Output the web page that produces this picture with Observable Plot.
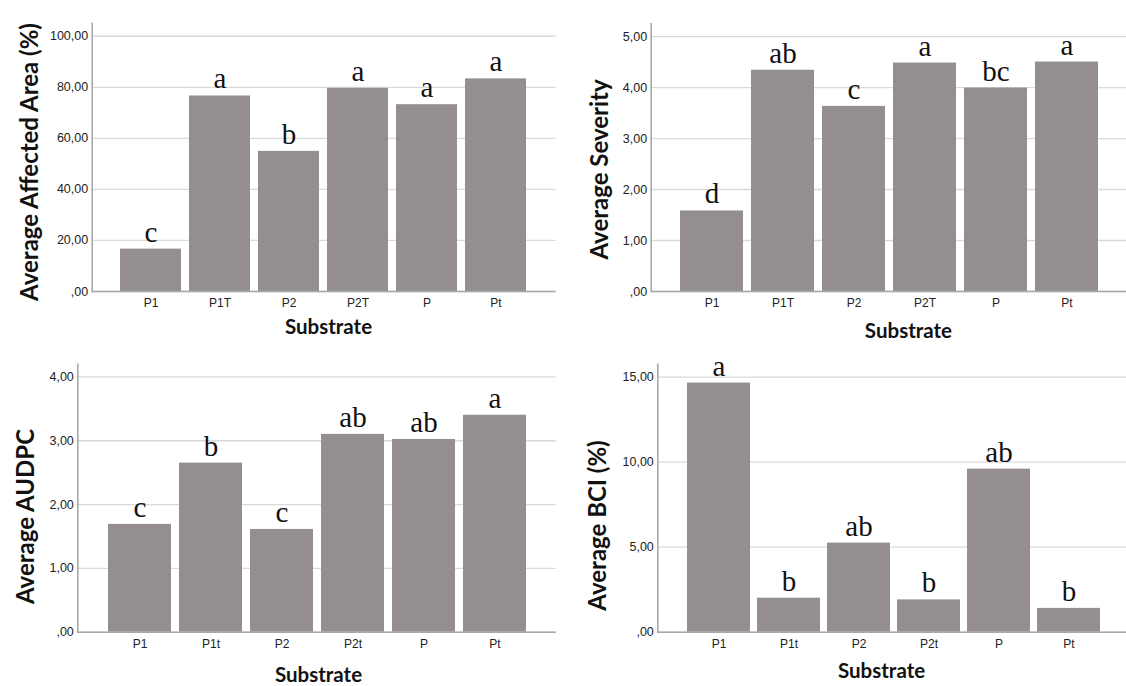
<!DOCTYPE html>
<html><head><meta charset="utf-8">
<script src="https://cdn.jsdelivr.net/npm/d3@7"></script>
<script src="https://cdn.jsdelivr.net/npm/@observablehq/plot@0.6"></script>
<style>
html,body{margin:0;padding:0;background:#fff;}
#wrap{position:relative;width:1126px;height:686px;overflow:hidden;background:#fff;}
.panel{position:absolute;width:563px;height:343px;}
.panel svg{overflow:visible;}
</style></head><body><div id="wrap"></div>
<script>
// ---- data ----
const categoriesTop = ["P1", "P1T", "P2", "P2T", "P", "Pt"];
const categoriesBottom = ["P1", "P1t", "P2", "P2t", "P", "Pt"];

const affectedArea = [16.6, 76.6, 54.9, 79.6, 73.2, 83.3];
const affectedAreaLetters = ["c", "a", "b", "a", "a", "a"];
const affectedAreaTicks = [0, 20, 40, 60, 80, 100];

const severity = [1.58, 4.34, 3.63, 4.48, 3.99, 4.50];
const severityLetters = ["d", "ab", "c", "a", "bc", "a"];
const severityTicks = [0, 1, 2, 3, 4, 5];

const audpc = [1.69, 2.65, 1.61, 3.10, 3.02, 3.40];
const audpcLetters = ["c", "b", "c", "ab", "ab", "a"];
const audpcTicks = [0, 1, 2, 3, 4];

const bci = [14.65, 2.0, 5.24, 1.9, 9.59, 1.4];
const bciLetters = ["a", "b", "ab", "b", "ab", "b"];
const bciTicks = [0, 5, 10, 15];

const xTitle = "Substrate";

// ---- layout ----
const panels = [
  {left: 0, top: 0, cats: categoriesTop, values: affectedArea, letters: affectedAreaLetters, ticks: affectedAreaTicks,
   yMax: 105, yTitle: "Average Affected Area (%)",
   mL: 91.7, mR: 7.3, mT: 23, mB: 52, xr: [114.5, 532.5], pad: 0.11,
   tdx: -62, tdy: 4.5, sdx: 4.3, sdy: 35.5},
  {left: 563, top: 0, cats: categoriesTop, values: severity, letters: severityLetters, ticks: severityTicks,
   yMax: 5.25, yTitle: "Average Severity",
   mL: 87.7, mR: 0, mT: 23.3, mB: 52, xr: [111.2, 541.4], pad: 0.115,
   tdx: -51, tdy: 11.8, sdx: 19.6, sdy: 40},
  {left: 0, top: 343, cats: categoriesBottom, values: audpc, letters: audpcLetters, ticks: audpcTicks,
   yMax: 4.2, yTitle: "Average AUDPC",
   mL: 77.3, mR: 7.3, mT: 20.7, mB: 54.3, xr: [101.2, 532.2], pad: 0.11,
   tdx: -51.3, tdy: 18.3, sdx: 1.5, sdy: 42.8},
  {left: 563, top: 343, cats: categoriesBottom, values: bci, letters: bciLetters, ticks: bciTicks,
   yMax: 15.76, yTitle: "Average BCI (%)",
   mL: 94.3, mR: 0, mT: 20.7, mB: 54.3, xr: [118.25, 541.75], pad: 0.107,
   tdx: -59.3, tdy: 27.3, sdx: -10.6, sdy: 38.8}
];

const fmt = v => v === 0 ? ",00" : d3.format(".2f")(v).replace(".", ",");
const sans = "'Liberation Sans', Arial, sans-serif";
const titleFont = "Lato, 'Open Sans', sans-serif";
const serif = "'Liberation Serif', 'Times New Roman', serif";

const wrap = document.getElementById("wrap");
for (const p of panels) {
  const data = p.cats.map((c, i) => ({cat: c, value: p.values[i], letter: p.letters[i]}));
  const chart = Plot.plot({
    width: 563, height: 343,
    marginLeft: p.mL, marginRight: p.mR, marginTop: p.mT, marginBottom: p.mB,
    style: {fontFamily: sans, background: "transparent", overflow: "visible"},
    x: {domain: p.cats, range: p.xr, paddingInner: p.pad, paddingOuter: p.pad / 2, label: null},
    y: {domain: [0, p.yMax], label: null},
    marks: [
      Plot.gridY({ticks: p.ticks, stroke: "#dadada", strokeOpacity: 1, strokeWidth: 1.3}),
      Plot.barY(data, {x: "cat", y: "value", fill: "#948f8e"}),
      Plot.ruleY([0], {stroke: "#a8a8a8", strokeWidth: 1.6}),
      Plot.frame({anchor: "left", stroke: "#a8a8a8", strokeWidth: 1.6}),
      Plot.axisY({ticks: p.ticks, tickSize: 0, tickPadding: 4, tickFormat: fmt, fontSize: 12.5, fill: "#222", label: null}),
      Plot.axisX({tickSize: 0, tickPadding: 7, fontSize: 12, fill: "#222", label: null}),
      Plot.text(data, {x: "cat", y: "value", text: "letter", lineAnchor: "bottom", dy: -7.5,
        fontSize: 29, fontFamily: serif, fill: "#111"}),
      Plot.text([p.yTitle], {text: d => d, frameAnchor: "left", rotate: -90, dx: p.tdx, dy: p.tdy,
        textAnchor: "middle", lineAnchor: "middle", fontSize: 24, fontWeight: "bold", fontFamily: titleFont, fill: "#111"}),
      Plot.text([xTitle], {text: d => d, frameAnchor: "bottom", dx: p.sdx, dy: p.sdy,
        textAnchor: "middle", lineAnchor: "middle", fontSize: 20.5, fontWeight: "bold", fontFamily: titleFont, fill: "#111"})
    ]
  });
  const div = document.createElement("div");
  div.className = "panel";
  div.style.left = p.left + "px";
  div.style.top = p.top + "px";
  div.appendChild(chart);
  wrap.appendChild(div);
}
</script>
</body></html>
